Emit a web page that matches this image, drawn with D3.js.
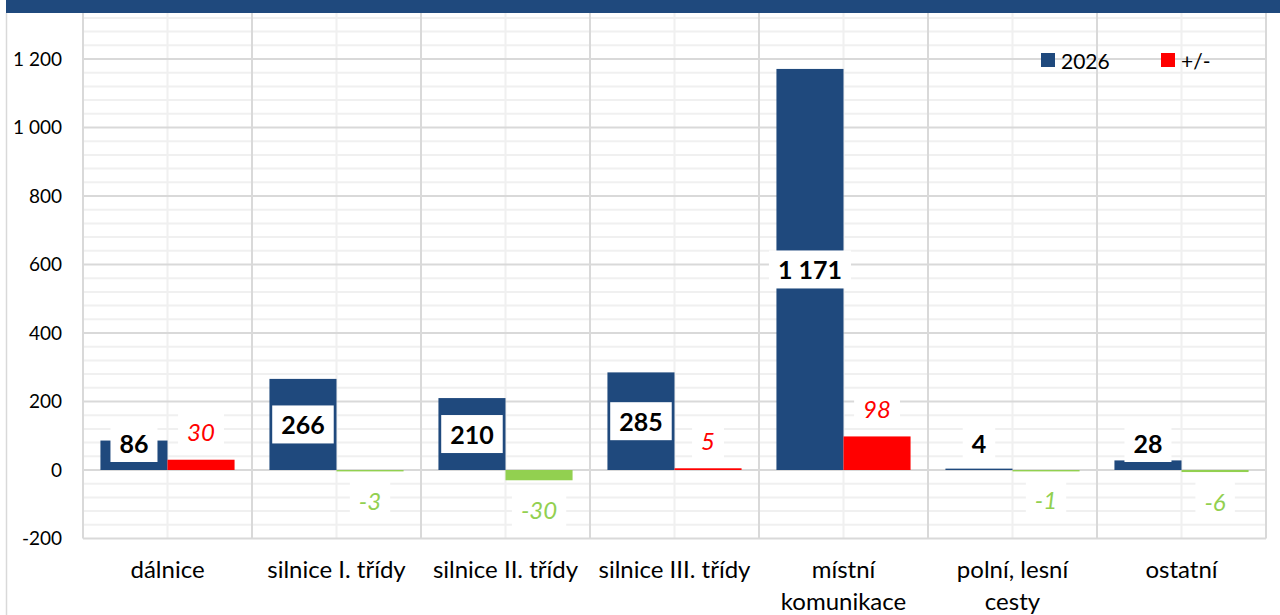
<!DOCTYPE html>
<html>
<head>
<meta charset="utf-8">
<script src="https://cdn.jsdelivr.net/npm/d3@7"></script>
<style>
  html, body { margin: 0; padding: 0; background: #fff; }
  svg { display: block; font-family: Lato, "Open Sans", sans-serif; }
</style>
</head>
<body>
<svg id="chart" width="1280" height="615"></svg>
<script>
// data
const categories = ["dálnice", "silnice I. třídy", "silnice II. třídy", "silnice III. třídy",
  "místní\nkomunikace", "polní, lesní\ncesty", "ostatní"];
const values2026 = [86, 266, 210, 285, 1171, 4, 28];
const valuesDiff = [30, -3, -30, 5, 98, -1, -6];
const yTicks = [-200, 0, 200, 400, 600, 800, 1000, 1200];
const legendLabels = ["2026", "+/-"];

const blue = "#1F497D", red = "#FF0000", green = "#92D050";

const svg = d3.select("#chart");
const W = 1280, H = 615;

const left = 83, right = 1266;
const y = d3.scaleLinear().domain([-200, 1360]).range([538.5, 4.2]);
const x = d3.scaleBand().domain(categories).range([left, right]);
const inner = d3.scaleBand().domain([0, 1]).range([0, x.bandwidth()]).paddingOuter(0.26);

// space as thousands separator, plain hyphen for minus
const fmt = d3.formatLocale({ decimal: ",", thousands: " ", grouping: [3], currency: ["", ""], minus: "-" }).format(",d");

const g = svg.append("g");

// minor horizontal grid (every 40)
g.append("g").selectAll("line")
  .data(d3.range(-200, 1361, 40).filter(v => v % 200 !== 0))
  .join("line")
  .attr("x1", left).attr("x2", right)
  .attr("y1", d => y(d)).attr("y2", d => y(d))
  .attr("stroke", "#F0F0F0").attr("stroke-width", 2);

// vertical minor lines at category centers
g.append("g").selectAll("line")
  .data(categories)
  .join("line")
  .attr("x1", d => x(d) + x.bandwidth() / 2).attr("x2", d => x(d) + x.bandwidth() / 2)
  .attr("y1", 0).attr("y2", y(-200))
  .attr("stroke", "#F0F0F0").attr("stroke-width", 2);

// major horizontal grid
g.append("g").selectAll("line")
  .data(yTicks)
  .join("line")
  .attr("x1", left).attr("x2", right)
  .attr("y1", d => y(d)).attr("y2", d => y(d))
  .attr("stroke", "#D9D9D9").attr("stroke-width", 2);

// vertical category boundaries
g.append("g").selectAll("line")
  .data(categories.map(c => x(c)).concat([right]))
  .join("line")
  .attr("x1", d => d).attr("x2", d => d)
  .attr("y1", 0).attr("y2", y(-200))
  .attr("stroke", "#D9D9D9").attr("stroke-width", 2);

// bars
const bars = g.append("g");
bars.selectAll("rect.v")
  .data(values2026)
  .join("rect")
  .attr("class", "v")
  .attr("x", (d, i) => x(categories[i]) + inner(0))
  .attr("width", inner.bandwidth())
  .attr("y", d => y(Math.max(0, d)))
  .attr("height", d => Math.max(1.4, Math.abs(y(d) - y(0))))
  .attr("fill", blue);

bars.selectAll("rect.d")
  .data(valuesDiff)
  .join("rect")
  .attr("class", "d")
  .attr("x", (d, i) => x(categories[i]) + inner(1))
  .attr("width", inner.bandwidth())
  .attr("y", d => y(Math.max(0, d)))
  .attr("height", d => Math.max(1.4, Math.abs(y(d) - y(0))))
  .attr("fill", d => d < 0 ? green : red);

// labels with white boxes
function boxLabel(parent, tx, ty, text, opts) {
  const t = parent.append("text")
    .attr("x", tx).attr("y", ty)
    .attr("text-anchor", "middle")
    .attr("dominant-baseline", "central")
    .attr("font-size", opts.size)
    .attr("font-weight", opts.weight)
    .attr("font-style", opts.style)
    .attr("fill", opts.color)
    .text(text);
  const bb = t.node().getBBox();
  parent.insert("rect", () => t.node())
    .attr("x", bb.x - 9).attr("width", bb.width + 18)
    .attr("y", ty - 19).attr("height", 38)
    .attr("fill", "#fff");
}

const labels = g.append("g");
values2026.forEach((v, i) => {
  const cx = x(categories[i]) + inner(0) + inner.bandwidth() / 2;
  const cy = Math.min((y(v) + y(0)) / 2, y(0) - 27);
  boxLabel(labels, cx, cy, fmt(v), { size: 25, weight: "bold", style: "normal", color: "#000" });
});
valuesDiff.forEach((v, i) => {
  const cx = x(categories[i]) + inner(1) + inner.bandwidth() / 2;
  const cy = v >= 0 ? y(v) - 28 : y(v) + 29;
  boxLabel(labels, cx, cy, fmt(v), { size: 24, weight: "normal", style: "italic", color: v < 0 ? green : red });
});

// y axis labels
const yAxis = svg.append("g")
  .attr("transform", `translate(${62},0)`)
  .call(d3.axisLeft(y).tickValues(yTicks).tickSize(0).tickPadding(0).tickFormat(fmt));
yAxis.select(".domain").remove();
yAxis.selectAll("text").attr("font-size", 19).attr("font-family", "Lato, sans-serif").attr("fill", "#000");

// category axis
const xAxis = svg.append("g")
  .attr("transform", `translate(0,${y(-200)})`)
  .call(d3.axisBottom(x).tickSize(0).tickFormat(""));
xAxis.select(".domain").remove();
xAxis.selectAll(".tick").each(function (d) {
  const t = d3.select(this).append("text")
    .attr("text-anchor", "middle")
    .attr("font-size", 24)
    .attr("font-family", "Lato, sans-serif")
    .attr("fill", "#000");
  d.split("\n").forEach((line, k) => {
    t.append("tspan").attr("x", 0).attr("y", 39 + k * 32).text(line);
  });
});

// legend
const legend = svg.append("g");
const legendX = [1041, 1161];
legendLabels.forEach((lab, i) => {
  legend.append("rect")
    .attr("x", legendX[i]).attr("y", 53).attr("width", 14).attr("height", 14)
    .attr("fill", i === 0 ? blue : red);
  legend.append("text")
    .attr("x", legendX[i] + 20).attr("y", 60)
    .attr("dominant-baseline", "central")
    .attr("font-size", 21)
    .attr("fill", "#000")
    .text(lab);
});

// frame: top band and left edge
svg.append("rect").attr("x", 6).attr("y", 0).attr("width", W - 6).attr("height", 13).attr("fill", blue);
svg.append("line").attr("x1", 6.5).attr("x2", 6.5).attr("y1", 13).attr("y2", H)
  .attr("stroke", "#D9D9D9").attr("stroke-width", 1.5);
</script>
</body>
</html>
